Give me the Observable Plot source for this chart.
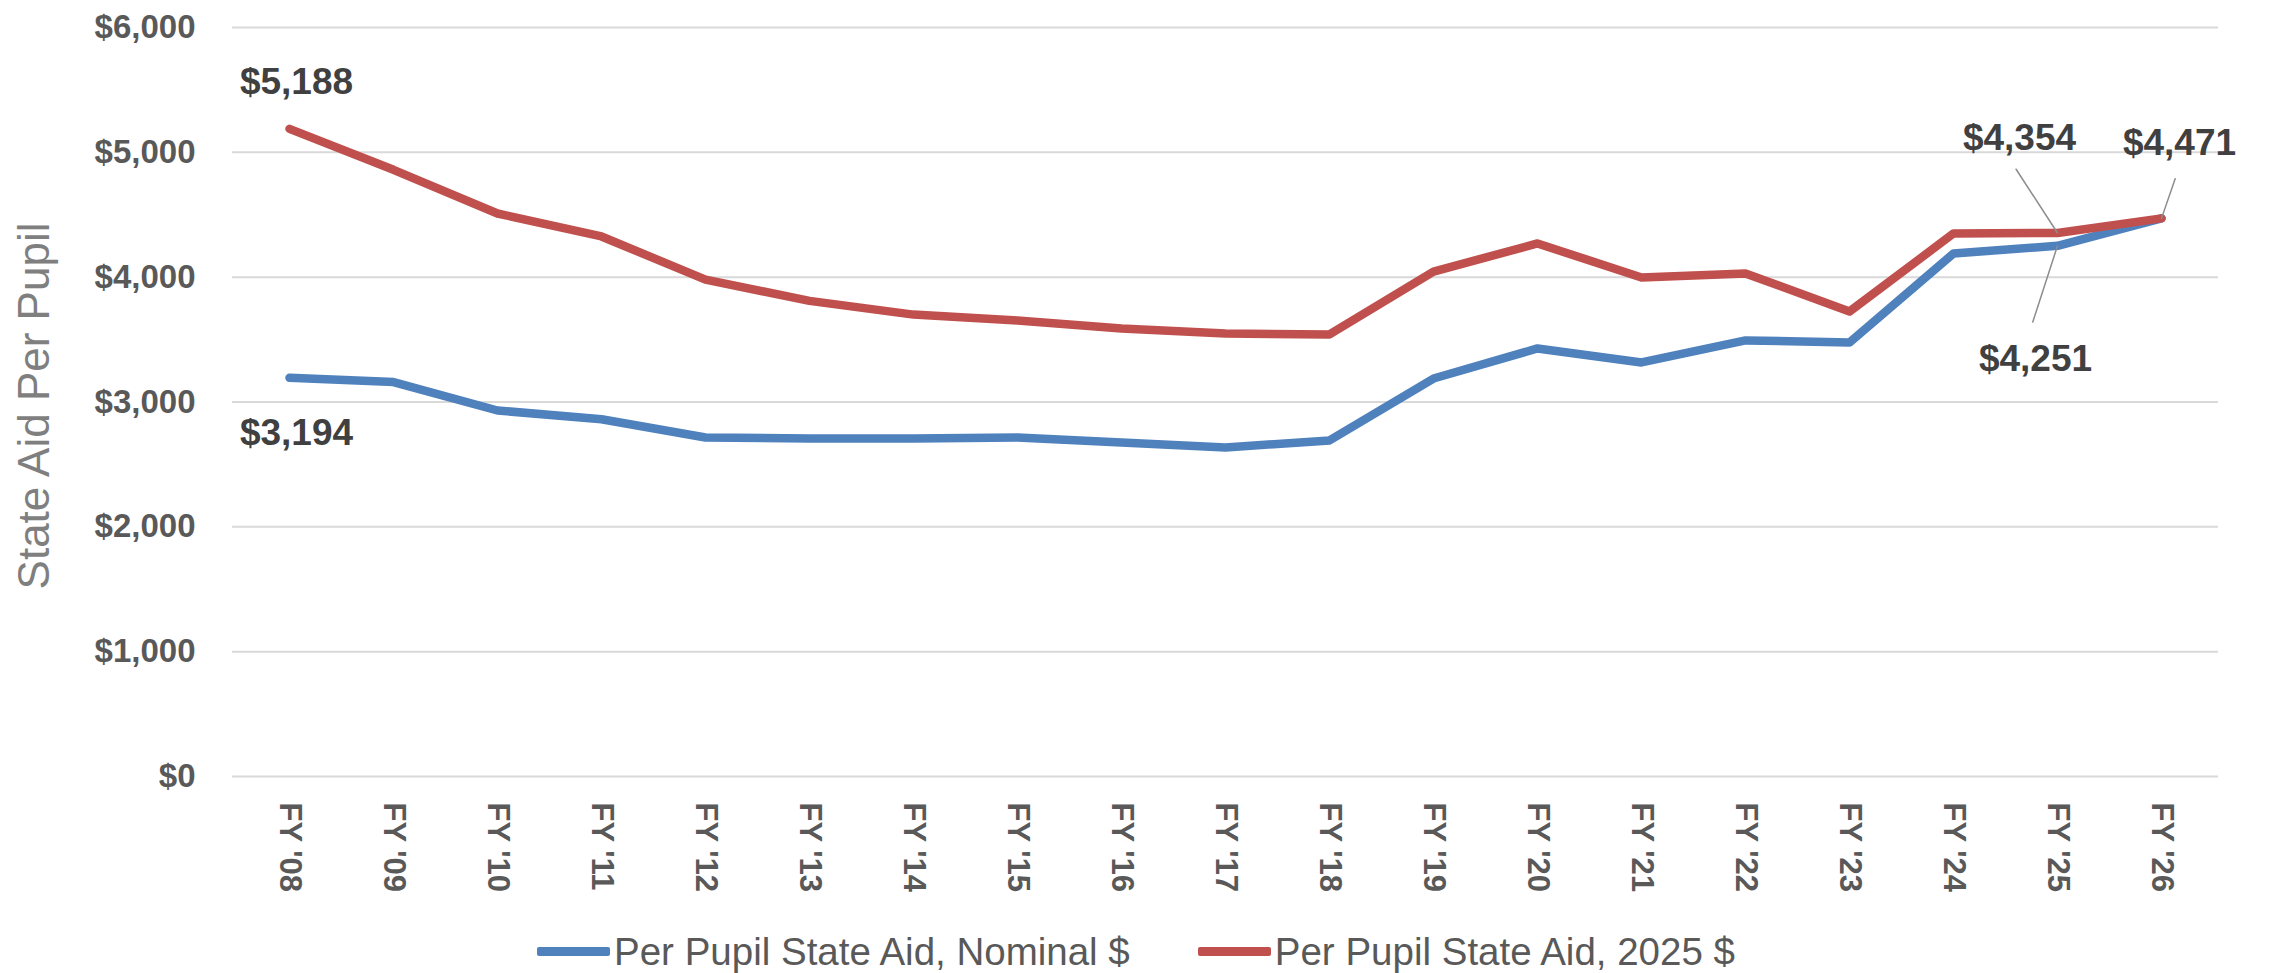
<!DOCTYPE html>
<html>
<head>
<meta charset="utf-8">
<script src="https://cdn.jsdelivr.net/npm/d3@7"></script>
<script src="https://cdn.jsdelivr.net/npm/@observablehq/plot@0.6"></script>
<style>
  html, body { margin: 0; padding: 0; background: #ffffff; overflow: hidden; }
  #chart svg { display: block; }
  #legend {
    height: 43px; display: flex; justify-content: center; align-items: center;
    font-family: "Liberation Sans", Arial, sans-serif; font-size: 38.5px; color: #595959;
  }
  .item { display: flex; align-items: center; margin: 0 34px; }
  .sw { display: inline-block; width: 73px; height: 9px; margin-right: 4px; border-radius: 2px; }
</style>
</head>
<body>
<div id="chart"></div>
<div id="legend"></div>
<script>
// ---- data ----
const years = ["FY '08","FY '09","FY '10","FY '11","FY '12","FY '13","FY '14","FY '15","FY '16","FY '17","FY '18","FY '19","FY '20","FY '21","FY '22","FY '23","FY '24","FY '25","FY '26"];
const nominal = [3194, 3160, 2932, 2862, 2716, 2708, 2708, 2716, 2676, 2636, 2692, 3188, 3429, 3317, 3493, 3477, 4190, 4251, 4471];
const real2025 = [5188, 4860, 4510, 4326, 3980, 3810, 3700, 3653, 3589, 3549, 3541, 4045, 4270, 3998, 4030, 3725, 4350, 4354, 4471];
const seriesNames = ["Per Pupil State Aid, Nominal $", "Per Pupil State Aid, 2025 $"];
const seriesColors = ["#4f81bd", "#c0504d"];
const yTicks = [0, 1000, 2000, 3000, 4000, 5000, 6000];
const yTitle = "State Aid Per Pupil";

// ---- tables ----
const nomRows = years.map((year, i) => ({year, value: nominal[i], series: seriesNames[0]}));
const realRows = years.map((year, i) => ({year, value: real2025[i], series: seriesNames[1]}));
const at = (rows, yr) => rows.filter(d => d.year === yr);
const fmt = d3.format("$,.0f");
const FONT = "'Liberation Sans', Arial, sans-serif";

const leader = {draw(ctx, l) { ctx.moveTo(0, 0); ctx.lineTo(0, -l); }};
const labelStyle = {x: "year", y: "value", text: d => fmt(d.value), fontSize: 37, fontWeight: "bold", fill: "#404040"};
const leaderStyle = {x: "year", y: "value", anchor: "start", shape: leader, stroke: "#8c8c8c", strokeWidth: 1.5};

const chart = Plot.plot({
  width: 2272,
  height: 930,
  marginLeft: 232,
  marginRight: 54,
  marginTop: 27,
  marginBottom: 154,
  style: {fontFamily: FONT, background: "#ffffff"},
  x: {type: "point", domain: years, padding: 0.5},
  y: {domain: [0, 6000]},
  marks: [
    Plot.gridY(yTicks, {stroke: "#d9d9d9", strokeOpacity: 1, strokeWidth: 2}),
    Plot.axisY(yTicks, {tickSize: 0, tickPadding: 37, tickFormat: fmt, fontSize: 33, fontWeight: "bold", fill: "#595959", label: null}),
    Plot.axisX({tickSize: 0, tickPadding: 26, tickRotate: 90, fontSize: 31, fontWeight: "bold", fill: "#595959", label: null}),
    Plot.text([yTitle], {frameAnchor: "left", textAnchor: "middle", rotate: -90, dx: -184, dy: 4, lineAnchor: "bottom", fontSize: 44, fill: "#7f7f7f"}),
    Plot.line(nomRows, {x: "year", y: "value", stroke: seriesColors[0], strokeWidth: 8.5, strokeLinejoin: "round"}),
    Plot.line(realRows, {x: "year", y: "value", stroke: seriesColors[1], strokeWidth: 8.5, strokeLinejoin: "round"}),
    Plot.vector(at(realRows, "FY '25"), {...leaderStyle, length: 76, rotate: -33}),
    Plot.vector(at(realRows, "FY '26"), {...leaderStyle, length: 42, rotate: 19}),
    Plot.vector(at(nomRows, "FY '25"), {...leaderStyle, length: 80, rotate: -162}),
    Plot.text(at(realRows, "FY '08"), {...labelStyle, dx: 7, dy: -47}),
    Plot.text(at(nomRows, "FY '08"), {...labelStyle, dx: 7, dy: 55}),
    Plot.text(at(realRows, "FY '25"), {...labelStyle, dx: -38, dy: -95}),
    Plot.text(at(realRows, "FY '26"), {...labelStyle, dx: 18, dy: -75}),
    Plot.text(at(nomRows, "FY '25"), {...labelStyle, dx: -22, dy: 113})
  ]
});
document.getElementById("chart").appendChild(chart);

// ---- legend ----
const legend = document.getElementById("legend");
seriesNames.forEach((name, i) => {
  const item = document.createElement("div");
  item.className = "item";
  const sw = document.createElement("span");
  sw.className = "sw";
  sw.style.background = seriesColors[i];
  const t = document.createElement("span");
  t.textContent = name;
  item.appendChild(sw);
  item.appendChild(t);
  legend.appendChild(item);
});
</script>
</body>
</html>
